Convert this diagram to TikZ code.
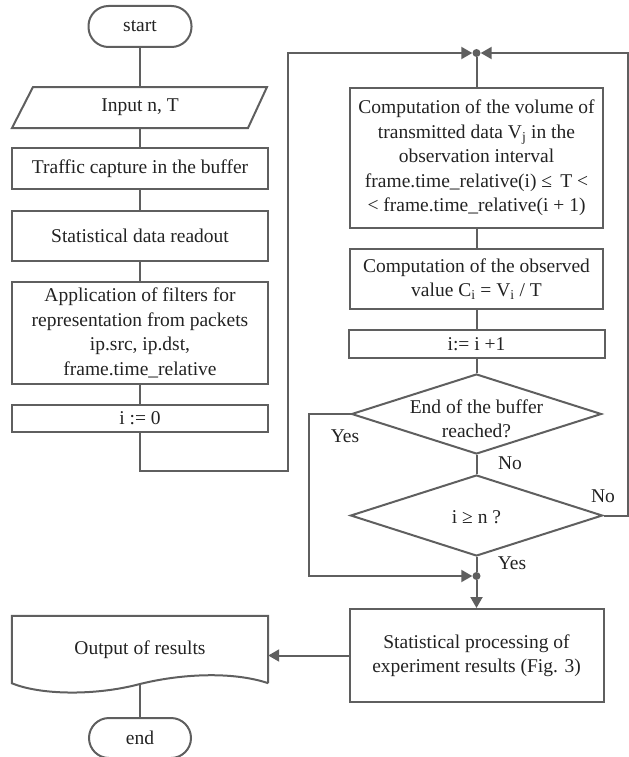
\documentclass[tikz,border=0pt]{standalone}
\usepackage{fontspec}
\setmainfont{Liberation Serif}
\usetikzlibrary{arrows.meta,shapes.geometric,calc}
\definecolor{lc}{HTML}{5F5F5F}
\definecolor{tc}{HTML}{222222}
\begin{document}
\begin{tikzpicture}[x=1bp,y=-1bp,
  every node/.style={text=tc, font=\fontsize{19.5bp}{24.5bp}\selectfont},
  ln/.style={draw=lc, line width=2bp},
  box/.style={ln, rectangle, inner sep=1bp, align=center},
  arr/.style={ln, -{Triangle[length=11bp,width=12bp]}},
  dot/.style={circle, fill=lc, inner sep=0pt, minimum size=8bp},
  lbl/.style={inner sep=0pt, align=center}
]
\useasboundingbox (0,0) rectangle (629,757);

% left column
\node[box, rounded corners=20bp, minimum width=103bp, minimum height=41bp] (start) at (140,26.5) {start};
\node[lbl, minimum width=235bp, minimum height=41bp] (in) at (140,107.5) {Input n, T};
\draw[ln] (33,87) -- (267,87) -- (248,128) -- (12,128) -- cycle;
\node[box, minimum width=255bp, minimum height=41bp] (cap) at (140,168.5) {Traffic capture in the buffer};
\node[box, minimum width=256bp, minimum height=50bp] (read) at (140,236) {Statistical data readout};
\node[box, minimum width=256bp, minimum height=102bp] (filt) at (140,333) {Application of filters for\\representation from packets\\ip.src, ip.dst,\\frame.time\_relative};
\node[box, minimum width=256bp, minimum height=27bp] (i0) at (140,418.5) {i := 0};

% right column
\node[dot] (j1) at (476.5,53) {};
\node[box, minimum width=253bp, minimum height=140bp] (vol) at (476.5,158) {Computation of the volume of\\transmitted data V\textsubscript{j} in the\\observation interval\\frame.time\_relative(i) ≤~\,T <\\< frame.time\_relative(i + 1)};
\node[box, minimum width=253bp, minimum height=60bp] (obs) at (476.5,279) {Computation of the observed\\value C\textsubscript{i} = V\textsubscript{i} / T};
\node[box, minimum width=256bp, minimum height=28bp] (inc) at (476.5,344) {i:= i +1};
\node[diamond, ln, minimum width=250bp, minimum height=80bp, inner sep=0pt] (d1) at (476.5,414) {};
\node[lbl] (d1t) at (476.5,419) {End of the buffer\\reached?};
\node[diamond, ln, minimum width=252bp, minimum height=81bp, inner sep=0pt] (d2) at (476.5,515.5) {};
\node[lbl] (d2t) at (476.5,517) {i ≥ n ?};
\node[dot] (j2) at (476.5,576) {};
\node[box, minimum width=254bp, minimum height=93bp] (stat) at (476.5,655.5) {Statistical processing of\\experiment results (Fig. 3)};

% output and end
\node[lbl, minimum width=256bp, minimum height=67bp] (out) at (140,649.5) {Output of results};
\draw[ln] (out.south east) -- (out.north east) -- (out.north west) -- (out.south west)
  .. controls (40,695) and (95,696) .. (140,684)
  .. controls (180,674) and (232,671) .. (out.south east);
\node[box, rounded corners=20bp, minimum width=102bp, minimum height=40bp] (end) at (140,738) {end};

% labels
\node[lbl] (yes1) at (345,436) {Yes};
\node[lbl] (no1) at (510,463) {No};
\node[lbl] (no2) at (603,496) {No};
\node[lbl] (yes2) at (512,563) {Yes};

% corner coordinates
\coordinate (c1) at (288,471);
\coordinate (c2) at (628,515.5);
\coordinate (c3) at (309,576);

% connectors
\draw[ln] (start.south) -- (in.north);
\draw[ln] (in.south) -- (cap.north);
\draw[ln] (cap.south) -- (read.north);
\draw[ln] (read.south) -- (filt.north);
\draw[ln] (filt.south) -- (i0.north);
\draw[arr] (i0.south) |- (c1) |- (j1);
\draw[arr] (d2.east) -- (c2) |- (j1);
\draw[ln] (j1) -- (vol.north);
\draw[ln] (vol.south) -- (obs.north);
\draw[ln] (obs.south) -- (inc.north);
\draw[ln] (inc.south) -- (d1.north);
\draw[ln] (d1.south) -- (d2.north);
\draw[arr] (d1.west) -| (c3) -- (j2);
\draw[ln] (d2.south) -- (j2);
\draw[arr] (j2) -- (stat.north);
\draw[arr] (stat.west) -- (stat.west -| out.east);
\draw[ln] (out.south) -- (end.north);
\end{tikzpicture}
\end{document}
